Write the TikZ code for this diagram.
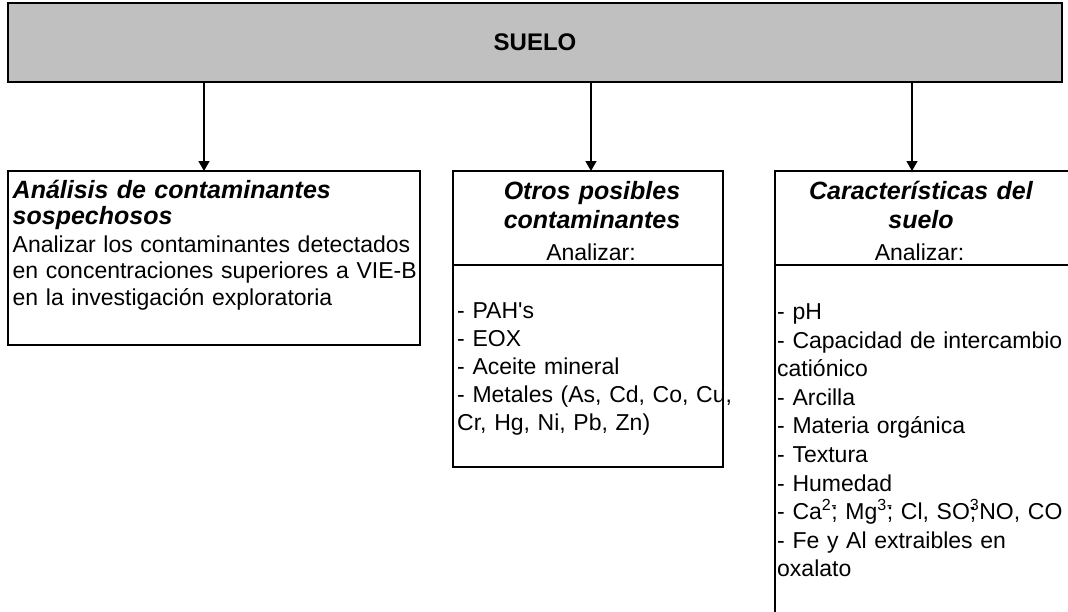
\documentclass[tikz,border=0pt]{standalone}
\usepackage{fontspec}
\setmainfont{Liberation Sans}
\usetikzlibrary{arrows.meta, positioning, calc}

\definecolor{barragris}{HTML}{C0C0C0}

\newcommand{\txtcuerpo}{\fontsize{23}{28}\selectfont}
\newcommand{\txttitulo}{\fontsize{25}{29}\selectfont\bfseries\itshape}

\begin{document}
\begin{tikzpicture}[x=1pt, y=-1pt,
  caja/.style = {draw, line width=1.6pt, anchor=north west, inner sep=0pt, outer sep=0pt},
  texto/.style = {inner sep=0pt, align=left, text width=520pt, font=\txtcuerpo},
  titulo/.style = {inner sep=0pt, align=center, text width=520pt, font=\txttitulo},
  flecha/.style = {line width=1.4pt, -{Triangle[width=11pt, length=10pt]}}
]

\useasboundingbox (0,0) rectangle (1068,611);
\clip (0,0) rectangle (1068,611);

% Barra superior
\node[caja, line width=1.2pt, fill=barragris, minimum width=1054pt, minimum height=79pt,
  font=\fontsize{24}{28}\selectfont\bfseries] (suelo) at (8,3) {SUELO};

% Caja 1: contaminantes sospechosos
\node[caja, minimum width=412pt, minimum height=174pt] (analisis) at (8,171) {};
\node[titulo, align=left, anchor=base west, font=\fontsize{25}{26}\selectfont\bfseries\itshape]
  (analisis-tit) at (12.5,198) {Análisis de contaminantes\\sospechosos};
\node[texto, anchor=base west, font=\fontsize{23}{26.5}\selectfont] (analisis-txt) at (12.5,252)
  {Analizar los contaminantes detectados\\en concentraciones superiores a VIE-B\\en la investigación exploratoria};

% Caja 2: otros contaminantes
\node[caja, minimum width=270pt, minimum height=94pt] (otros-cab) at (453,171) {};
\node[caja, minimum width=270pt, minimum height=202pt, below=0pt of otros-cab] (otros-lista) {};
\node[titulo, anchor=base] (otros-tit) at (592,199) {Otros posibles\\contaminantes};
\node[texto, align=center, anchor=base] (otros-an) at (591,260) {Analizar:};
\node[texto, anchor=base west] (otros-txt) at (457,318.5)
  {- PAH\textquotesingle s\\- EOX\\- Aceite mineral\\- Metales (As, Cd, Co, Cu,\\Cr, Hg, Ni, Pb, Zn)};

% Caja 3: caracteristicas del suelo
\node[caja, minimum width=300pt, minimum height=94pt] (carac-cab) at (775,171) {};
\node[caja, minimum width=300pt, minimum height=400pt, below=0pt of carac-cab] (carac-lista) {};
\node[titulo, anchor=base] (carac-tit) at (921,199) {Características del\\suelo};
\node[texto, align=center, anchor=base] (carac-an) at (919.5,260) {Analizar:};
\node[texto, anchor=base west, font=\fontsize{23}{28.6}\selectfont] (carac-txt) at (777,319.5)
  {- pH\\- Capacidad de intercambio\\catiónico\\- Arcilla\\- Materia orgánica\\- Textura\\- Humedad\\
   - Ca\textsuperscript{2}\rlap{\textsuperscript{-}}; Mg\textsuperscript{3}\rlap{\textsuperscript{-}}; Cl, SO\rlap{;}\textsuperscript{3}NO, CO\\
   - Fe y Al extraibles en\\oxalato};

% Flechas
\coordinate (f1) at ([xshift=-10pt]analisis.north);
\coordinate (f2) at ([xshift=3pt]otros-cab.north);
\coordinate (f3) at ([xshift=-13pt]carac-cab.north);
\draw[flecha] (suelo.south -| f1) -- (f1);
\draw[flecha] (suelo.south -| f2) -- (f2);
\draw[flecha] (suelo.south -| f3) -- (f3);

\end{tikzpicture}
\end{document}
